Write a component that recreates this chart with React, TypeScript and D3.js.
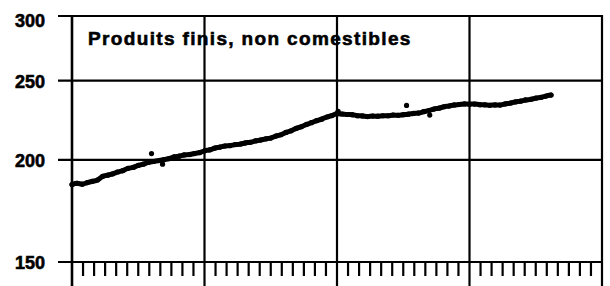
import React, { useEffect, useRef } from "react";
import * as d3 from "d3";

// biweekly index values, one array per year
const year1 = [186.6, 187.2, 186.8, 187.6, 188.3, 189.0, 190.9, 191.6, 192.3, 193.3, 194.1, 195.3, 195.8,
  196.9, 197.6, 198.6, 199.1, 199.6, 200.1, 200.7, 201.7, 202.1, 202.8, 203.0, 203.6, 204.1];
const year2 = [205.2, 205.7, 206.7, 207.3, 208.0, 208.2, 208.8, 209.1, 209.8, 210.2, 211.0, 211.5, 212.2,
  212.7, 213.9, 214.7, 216.1, 217.1, 218.6, 219.6, 221.0, 222.1, 223.4, 224.3, 225.7, 226.6];
const year3 = [227.8, 227.6, 227.3, 227.2, 226.5, 226.4, 226.0, 226.3, 226.2, 226.5, 226.5, 226.9, 226.8,
  227.2, 227.5, 228.0, 228.2, 229.1, 229.8, 230.8, 231.4, 232.3, 232.8, 233.5, 233.8, 234.2];
const year4 = [234.0, 234.1, 233.7, 233.6, 233.3, 233.5, 233.4, 234.2, 234.7, 235.5, 236.0, 236.8, 237.2,
  238.0, 238.5, 239.4, 240.1];
// stray points [month, value]
const strays: [number, number][] = [[7.2, 203.6], [8.2, 197.6], [30.3, 233.2], [32.4, 226.9], [24.1, 229.4]];

const yTicks = [150, 200, 250, 300];
const title = "Produits finis, non comestibles";

export default function App() {
  const ref = useRef<SVGSVGElement>(null);

  useEffect(() => {
    const svg = d3.select(ref.current);
    svg.selectAll("*").remove();

    const left = 72, right = 602, top = 16, bottom = 262;
    const values = [...year1, ...year2, ...year3, ...year4];
    const pts = values.map((v, i) => [(i * 12) / 26, v] as [number, number]);

    const x = d3.scaleLinear().domain([0, 48]).range([left, right]);
    const y = d3.scaleLog().domain([150, 300]).range([bottom, top]);

    const font = "'Liberation Sans', Arial, sans-serif";

    // horizontal grid
    svg.append("g")
      .selectAll("line")
      .data(yTicks)
      .join("line")
      .attr("x1", 58)
      .attr("x2", right + 1)
      .attr("y1", d => y(d))
      .attr("y2", d => y(d))
      .attr("stroke", "#000")
      .attr("stroke-width", 2.2);

    // vertical grid (years)
    svg.append("g")
      .selectAll("line")
      .data(d3.range(0, 49, 12))
      .join("line")
      .attr("x1", d => x(d))
      .attr("x2", d => x(d))
      .attr("y1", top - 1)
      .attr("y2", 286)
      .attr("stroke", "#000")
      .attr("stroke-width", d => (d === 0 ? 2.6 : 2.2));

    // month ticks
    svg.append("g")
      .selectAll("line")
      .data(d3.range(1, 48).filter(m => m % 12 !== 0))
      .join("line")
      .attr("x1", d => x(d))
      .attr("x2", d => x(d))
      .attr("y1", bottom)
      .attr("y2", bottom + 14)
      .attr("stroke", "#000")
      .attr("stroke-width", 2.2);

    // y labels
    svg.append("g")
      .selectAll("text")
      .data(yTicks)
      .join("text")
      .attr("x", 45)
      .attr("y", d => (d === 300 ? y(d) + 11 : y(d) + 7))
      .attr("text-anchor", "end")
      .attr("stroke", "#000")
      .attr("stroke-width", 0.6)
      .style("font-family", font)
      .style("font-weight", "bold")
      .style("font-size", "18px")
      .text(d => d);

    svg.append("text")
      .attr("x", 88)
      .attr("y", 45)
      .attr("stroke", "#000")
      .attr("stroke-width", 0.6)
      .style("font-family", font)
      .style("font-weight", "bold")
      .style("font-size", "19px")
      .style("letter-spacing", "1.35px")
      .text(title);

    // series band
    const line = d3.line<[number, number]>()
      .x(d => x(d[0]))
      .y(d => y(d[1]))
      .curve(d3.curveMonotoneX);

    svg.append("path")
      .datum(pts)
      .attr("fill", "none")
      .attr("stroke", "#000")
      .attr("stroke-width", 5)
      .attr("stroke-linecap", "round")
      .attr("d", line);

    svg.append("g")
      .selectAll("circle")
      .data([...pts, ...strays])
      .join("circle")
      .attr("cx", d => x(d[0]))
      .attr("cy", d => y(d[1]))
      .attr("r", 2.6)
      .attr("fill", "#000");
  }, []);

  return (
    <svg
      ref={ref}
      width={610}
      height={286}
      style={{ position: "absolute", left: 0, top: 0, background: "#fff" }}
    />
  );
}
